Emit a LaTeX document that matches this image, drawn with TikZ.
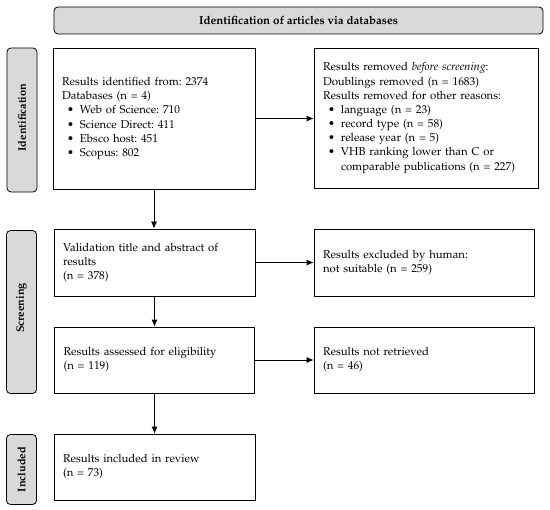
\documentclass[tikz,border=0pt]{standalone}
\usepackage[T1]{fontenc}
\usepackage{mathpazo}
\usetikzlibrary{arrows.meta}
\definecolor{labgray}{HTML}{D9D9D9}
\newcommand{\bul}{\makebox[18bp][l]{\hspace{5bp}\textbullet}}
\tikzset{
	box/.style={draw,line width=0.8pt,minimum height=#1,inner xsep=9bp,inner ysep=0pt,align=left,font=\fontsize{11.4}{14.2}\selectfont\frenchspacing},
	phase/.style={draw,line width=0.8pt,fill=labgray,rounded corners=4bp,rotate=90,minimum height=30bp,minimum width=#1,inner sep=0pt,font=\fontsize{11}{12}\selectfont\bfseries},
	head/.style={draw,line width=0.8pt,fill=labgray,rounded corners=4bp,minimum width=489bp,minimum height=27bp,font=\fontsize{11.6}{13}\selectfont\bfseries},
	arr/.style={-{Latex[length=7bp,width=6bp]},line width=0.8pt}
}
\begin{document}
\begin{tikzpicture}[x=1bp,y=-1bp]
		\useasboundingbox (0,0) rectangle (550,510);
		\node[head] (top) at (298.5,20.5) {Identification of articles via databases};
		\node[phase=144bp] (idlab) at (22,120) {\hspace*{5bp}Identification};
		\node[phase=163bp] (scrlab) at (21.5,312) {\hspace*{8bp}Screening};
		\node[phase=70bp] (inclab) at (21.5,469.5) {Included};
		\node[box=141bp,text width=184bp] (ids) at (154,118.5) {Results identified from: 2374\\
			Databases (n = 4)\\
			\bul Web of Science: 710\\
			\bul Science Direct: 411\\
			\bul Ebsco host: 451\\
			\bul Scopus: 802};
		\node[box=140bp,text width=206bp] (rem) at (426,118) {Results removed \textit{before screening}:\\
			Doublings removed (n = 1683)\\
			Results removed for other reasons:\\
			\bul language (n = 23)\\
			\bul record type (n = 58)\\
			\bul release year (n = 5)\\
			\bul VHB ranking lower than C or\\
			\hspace*{18bp}comparable publications (n = 227)};
		\node[box=67bp,text width=183bp] (val) at (154.5,262.5) {Validation title and abstract of\\ results\\ (n = 378)};
		\node[box=67bp,text width=202bp] (exc) at (424,262.5) {Results excluded by human:\\ not suitable (n = 259)};
		\node[box=66bp,text width=182bp] (ass) at (154.5,360) {Results assessed for eligibility\\ (n = 119)};
		\node[box=66bp,text width=202bp] (ret) at (424,360) {Results not retrieved\\ (n = 46)};
		\node[box=66bp,text width=183bp] (inc) at (154.5,467) {Results included in review\\ (n = 73)};
		\draw[arr] (ids.east) -- (ids.east -| rem.west);
		\draw[arr] (ids.south) -- (ids.south |- val.north);
		\draw[arr] (val.east) -- (exc.west);
		\draw[arr] (val.south) -- (ass.north);
		\draw[arr] (ass.east) -- (ret.west);
		\draw[arr] (ass.south) -- (inc.north);
\end{tikzpicture}
\end{document}
